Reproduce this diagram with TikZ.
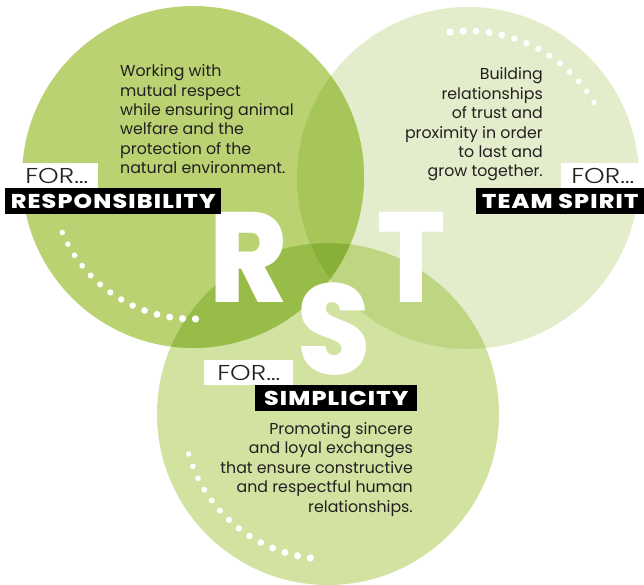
\documentclass[tikz,border=0pt]{standalone}
\usepackage{fontspec}
\setmainfont{Poppins}
\IfFontExistsTF{Poppins Light}{\newfontfamily\forfont{Poppins Light}}{\newfontfamily\forfont{Poppins}}
\IfFontExistsTF{Poppins ExtraBold}{\newfontfamily\heavyfont{Poppins ExtraBold}[LetterSpace=5]}{\newfontfamily\heavyfont{Poppins}[UprightFont=*,BoldFont=*]\def\heavyfont{\bfseries}}
\IfFontExistsTF{Poppins ExtraBold}{\newfontfamily\bigfont{Poppins ExtraBold}}{\newfontfamily\bigfont{Poppins}[UprightFont=*,BoldFont=*]\def\bigfont{\bfseries}}
\definecolor{ink}{HTML}{231F20}
\definecolor{gL}{HTML}{BAD272}
\definecolor{gR}{HTML}{E3EDCB}
\definecolor{gB}{HTML}{D2E2A0}
\definecolor{gLR}{HTML}{A6C65A}
\definecolor{gLB}{HTML}{97BC47}
\definecolor{gRB}{HTML}{BED582}
\definecolor{gLRB}{HTML}{88B038}
% wide lettering for the labels
\newcommand\widetext[2]{\scalebox{#1}[1]{#2}}
\begin{document}
\begin{tikzpicture}[x=1pt,y=-1pt,
  body/.style={font=\fontsize{15.8}{19}\selectfont, text=ink, inner sep=0pt},
  forbox/.style={fill=white, text=ink, inner sep=0pt, minimum height=25pt,
    font=\forfont\fontsize{21.5}{21.5}\selectfont, anchor=north west},
  titlebox/.style={fill=black, text=white, inner sep=0pt, minimum height=25.5pt,
    font=\heavyfont\fontsize{20}{20}\selectfont, anchor=north west},
  bigletter/.style={text=white, inner sep=0pt, font=\bigfont\fontsize{128}{128}\selectfont}]
\useasboundingbox (0,0) rectangle (644,585);
% circle centres
\coordinate (Lc) at (193,177);
\coordinate (Rc) at (468,178);
\coordinate (Bc) at (328,414);
\def\rad{171pt}
% single-circle areas
\fill[gR] (Rc) circle[radius=\rad];
\fill[gL] (Lc) circle[radius=\rad];
\fill[gB] (Bc) circle[radius=\rad];
% overlaps
\begin{scope}\clip (Lc) circle[radius=\rad]; \fill[gLR] (Rc) circle[radius=\rad]; \end{scope}
\begin{scope}\clip (Lc) circle[radius=\rad]; \fill[gLB] (Bc) circle[radius=\rad]; \end{scope}
\begin{scope}\clip (Rc) circle[radius=\rad]; \fill[gRB] (Bc) circle[radius=\rad]; \end{scope}
\begin{scope}\clip (Lc) circle[radius=\rad]; \clip (Rc) circle[radius=\rad];
  \fill[gLRB] (Bc) circle[radius=\rad]; \end{scope}
% dotted arcs
\foreach \k in {0,...,13} {
  \fill[white] (Lc) ++({157-\k*68/13}:142) circle[radius={2.7pt+\k*0.07pt}];
  \fill[white] (Rc) ++({329-\k*66/13}:147) circle[radius={2.7pt+\k*0.07pt}];
  \fill[white] (Bc) ++({164-\k*67/13}:145) circle[radius={2.7pt+\k*0.07pt}];
}
% big initials
\node[bigletter] (R) at (248.5,257.5) {\widetext{0.92}{R}};
\node[bigletter] (T) at (411.5,257.5) {\widetext{0.88}{T}};
\node[bigletter] (S) at (333.5,329) {\widetext{0.92}{S}};
% labels
\node[forbox, minimum width=83pt] (forL) at (15,163) {\widetext{1.22}{FOR…}};
\node[titlebox, minimum width=216pt] (titleL) at (5,188) {\widetext{1.18}{RESPONSIBILITY}};
\node[forbox, minimum width=83pt] (forR) at (561,163) {\widetext{1.22}{FOR…}};
\node[titlebox, minimum width=168pt] (titleR) at (476,188) {\widetext{1.18}{TEAM SPIRIT}};
\node[forbox, minimum width=89pt] (forB) at (204,360) {\widetext{1.22}{FOR…}};
\node[titlebox, minimum width=162pt] (titleB) at (255,385) {\widetext{1.18}{SIMPLICITY}};
% descriptions
\foreach \t [count=\i from 0] in {Working with, mutual respect, while ensuring animal,
  welfare and the, protection of the, natural environment.}
  \node[body, anchor=base west] (txtL\i) at (120,{77+19.3*\i}) {\t};
\foreach \t [count=\i from 0] in {Building, relationships, of trust and,
  proximity in order, to last and, grow together.}
  \node[body, anchor=base east] (txtR\i) at (543,{80+19.4*\i}) {\t};
\foreach \t [count=\i from 0] in {Promoting sincere, and loyal exchanges,
  that ensure constructive, and respectful human, relationships.}
  \node[body, anchor=base east] (txtB\i) at (413,{434+19.5*\i}) {\t};
\end{tikzpicture}
\end{document}
